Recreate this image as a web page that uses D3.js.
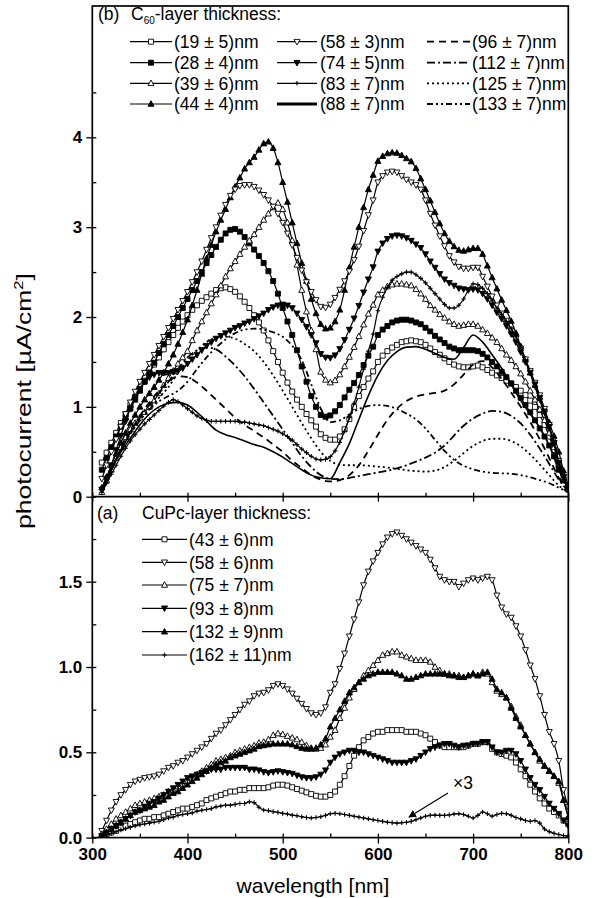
<!DOCTYPE html>
<html><head><meta charset="utf-8">
<script src="https://cdn.jsdelivr.net/npm/d3@7"></script>
<style>
body{margin:0;background:#fff}
svg{display:block}
text{font-family:"Liberation Sans",Arial,sans-serif;fill:#000}
</style></head>
<body><svg id="c" width="597" height="898"></svg>
<script>
// ---------- data ----------
const wavelength5 = d3.range(310, 801, 5);   // nm, 99 samples
const wavelength10 = d3.range(310, 801, 10); // nm, 50 samples

// (b) C60-layer thickness series, photocurrent [uA/cm2]
const c60_19 = [0.38,0.49,0.60,0.71,0.82,0.92,1.02,1.11,1.20,1.29,
1.38,1.47,1.55,1.64,1.72,1.80,1.88,1.95,2.02,2.08,
2.13,2.18,2.22,2.26,2.30,2.32,2.33,2.31,2.28,2.23,
2.17,2.10,2.02,1.94,1.85,1.74,1.62,1.50,1.38,1.27,
1.17,1.08,1.00,0.92,0.85,0.78,0.695,0.655,0.635,0.635,
0.67,0.75,0.865,1.00,1.12,1.22,1.315,1.395,1.50,1.57,
1.62,1.66,1.69,1.72,1.73,1.74,1.73,1.72,1.69,1.65,
1.61,1.58,1.54,1.50,1.47,1.45,1.44,1.44,1.45,1.46,
1.44,1.41,1.38,1.35,1.32,1.29,1.26,1.22,1.18,1.13,
1.07,1.00,0.91,0.80,0.67,0.52,0.35,0.20,0.10];
const c60_28 = [0.30,0.43,0.55,0.67,0.78,0.88,0.98,1.08,1.18,1.28,
1.38,1.49,1.60,1.70,1.80,1.90,2.00,2.10,2.20,2.30,
2.40,2.50,2.60,2.69,2.78,2.86,2.93,2.97,2.98,2.95,
2.89,2.82,2.75,2.68,2.60,2.51,2.40,2.26,2.10,1.95,
1.80,1.63,1.45,1.28,1.12,1.00,0.91,0.89,0.905,0.95,
1.02,1.105,1.19,1.265,1.355,1.465,1.57,1.67,1.80,1.86,
1.90,1.94,1.96,1.97,1.97,1.96,1.94,1.92,1.88,1.84,
1.79,1.75,1.71,1.67,1.65,1.63,1.63,1.63,1.63,1.62,
1.59,1.55,1.50,1.45,1.39,1.33,1.26,1.18,1.10,1.02,
0.94,0.85,0.76,0.67,0.57,0.45,0.30,0.18,0.08];
const c60_39 = [0.05,0.18,0.30,0.43,0.55,0.66,0.75,0.82,0.88,0.94,
1.00,1.07,1.15,1.24,1.32,1.40,1.48,1.55,1.62,1.74,
1.85,1.95,2.05,2.15,2.25,2.35,2.45,2.54,2.62,2.70,
2.78,2.85,2.92,3.00,3.08,3.15,3.22,3.27,3.20,3.05,
2.85,2.58,2.30,2.06,1.85,1.64,1.39,1.30,1.27,1.295,
1.36,1.45,1.555,1.665,1.785,1.915,2.035,2.135,2.25,2.30,
2.34,2.36,2.37,2.37,2.36,2.35,2.31,2.26,2.20,2.13,
2.08,2.03,1.99,1.95,1.92,1.90,1.91,1.92,1.92,1.90,
1.86,1.82,1.77,1.72,1.65,1.58,1.52,1.45,1.37,1.28,
1.18,1.08,0.97,0.85,0.71,0.55,0.36,0.22,0.10];
const c60_44 = [0.10,0.22,0.35,0.48,0.60,0.71,0.82,0.91,1.00,1.08,
1.15,1.22,1.30,1.38,1.48,1.58,1.70,1.83,1.97,2.13,
2.30,2.48,2.65,2.80,2.95,3.08,3.20,3.33,3.45,3.55,
3.65,3.72,3.78,3.86,3.93,3.95,3.88,3.72,3.50,3.28,
3.05,2.82,2.60,2.40,2.20,2.04,1.92,1.87,1.88,1.95,
2.08,2.30,2.55,2.78,3.00,3.22,3.42,3.58,3.735,3.79,
3.82,3.83,3.825,3.80,3.765,3.73,3.655,3.54,3.42,3.295,
3.165,3.04,2.93,2.845,2.785,2.745,2.735,2.75,2.765,2.765,
2.70,2.57,2.44,2.315,2.19,2.075,1.955,1.82,1.675,1.525,
1.38,1.245,1.11,0.97,0.825,0.675,0.50,0.29,0.12];
const c60_58 = [0.20,0.35,0.50,0.64,0.78,0.92,1.05,1.17,1.28,1.38,
1.48,1.58,1.68,1.78,1.88,1.98,2.08,2.18,2.28,2.39,
2.50,2.62,2.75,2.88,3.00,3.13,3.25,3.35,3.42,3.46,
3.47,3.47,3.45,3.41,3.36,3.30,3.23,3.15,3.05,2.93,
2.80,2.66,2.52,2.39,2.28,2.19,2.115,2.105,2.14,2.215,
2.305,2.40,2.51,2.635,2.785,2.96,3.135,3.30,3.50,3.57,
3.61,3.62,3.61,3.57,3.53,3.50,3.47,3.42,3.30,3.15,
3.02,2.90,2.79,2.68,2.61,2.56,2.54,2.54,2.55,2.55,
2.45,2.34,2.23,2.13,2.04,1.96,1.86,1.76,1.65,1.53,
1.40,1.27,1.13,0.98,0.80,0.60,0.40,0.22,0.10];
const c60_74 = [0.08,0.20,0.35,0.52,0.68,0.84,0.98,1.10,1.20,1.28,
1.33,1.36,1.38,1.38,1.38,1.39,1.40,1.43,1.48,1.53,
1.58,1.63,1.68,1.72,1.76,1.79,1.82,1.85,1.88,1.90,
1.93,1.95,1.98,2.01,2.04,2.08,2.11,2.13,2.14,2.13,
2.10,2.04,1.97,1.89,1.80,1.71,1.59,1.55,1.545,1.575,
1.645,1.745,1.86,1.985,2.125,2.275,2.42,2.555,2.73,2.82,
2.87,2.90,2.91,2.90,2.88,2.85,2.81,2.77,2.70,2.62,
2.55,2.48,2.42,2.38,2.35,2.32,2.31,2.30,2.31,2.30,
2.26,2.20,2.13,2.05,1.98,1.90,1.81,1.72,1.61,1.50,
1.38,1.25,1.10,0.95,0.78,0.60,0.38,0.22,0.10];
const c60_83 = [0.05,0.15,0.25,0.35,0.45,0.54,0.62,0.69,0.75,0.81,
0.86,0.91,0.96,1.01,1.05,1.08,1.06,1.02,0.98,0.94,
0.90,0.87,0.85,0.84,0.84,0.84,0.84,0.84,0.84,0.83,
0.83,0.82,0.81,0.80,0.79,0.77,0.75,0.73,0.70,0.67,
0.63,0.58,0.53,0.49,0.45,0.42,0.41,0.415,0.445,0.51,
0.605,0.73,0.88,1.04,1.22,1.42,1.62,1.81,2.07,2.22,
2.33,2.41,2.45,2.48,2.50,2.50,2.47,2.43,2.38,2.32,
2.26,2.20,2.14,2.10,2.10,2.13,2.20,2.30,2.37,2.36,
2.32,2.26,2.18,2.10,2.03,1.95,1.87,1.78,1.66,1.52,
1.37,1.22,1.07,0.92,0.76,0.58,0.38,0.22,0.10];
// line-only series, 10 nm sampling
const c60_88 = [0.05,0.30,0.50,0.65,0.80,0.92,1.00,1.04,1.05,1.02,
0.94,0.84,0.74,0.69,0.66,0.62,0.58,0.55,0.50,0.44,
0.37,0.30,0.24,0.21,0.20,0.38,0.59,0.86,1.125,1.35,
1.515,1.615,1.665,1.67,1.64,1.595,1.55,1.53,1.66,1.80,
1.72,1.58,1.43,1.25,1.07,0.92,0.77,0.57,0.30,0.10];
const c60_96 = [0.05,0.30,0.52,0.72,0.90,1.05,1.18,1.28,1.34,1.33,
1.27,1.18,1.08,0.98,0.88,0.80,0.73,0.66,0.58,0.50,
0.40,0.32,0.24,0.19,0.17,0.185,0.24,0.35,0.51,0.69,
0.855,0.98,1.065,1.115,1.14,1.155,1.18,1.25,1.36,1.47,
1.51,1.44,1.31,1.16,1.00,0.83,0.64,0.43,0.21,0.06];
const c60_112 = [0.05,0.30,0.52,0.72,0.88,1.02,1.15,1.28,1.42,1.55,
1.63,1.66,1.64,1.56,1.46,1.34,1.20,1.05,0.90,0.75,
0.60,0.45,0.33,0.24,0.20,0.195,0.21,0.23,0.25,0.27,
0.29,0.315,0.35,0.39,0.435,0.49,0.57,0.68,0.79,0.87,
0.925,0.955,0.945,0.90,0.815,0.69,0.535,0.365,0.19,0.06];
const c60_125 = [0.05,0.30,0.52,0.70,0.85,0.98,1.10,1.22,1.38,1.52,
1.63,1.72,1.77,1.78,1.76,1.70,1.62,1.50,1.35,1.18,
1.00,0.82,0.65,0.50,0.40,0.355,0.35,0.35,0.345,0.335,
0.325,0.31,0.295,0.285,0.28,0.29,0.33,0.40,0.485,0.565,
0.62,0.645,0.645,0.62,0.56,0.47,0.36,0.24,0.125,0.05];
const c60_133 = [0.05,0.30,0.52,0.70,0.85,0.97,1.06,1.12,1.18,1.28,
1.42,1.55,1.66,1.75,1.82,1.86,1.87,1.86,1.83,1.78,
1.68,1.52,1.25,0.98,0.83,0.85,0.915,0.975,1.01,1.02,
1.01,0.975,0.925,0.86,0.76,0.635,0.51,0.41,0.345,0.305,
0.28,0.265,0.26,0.255,0.24,0.215,0.185,0.15,0.10,0.05];

// (a) CuPc-layer thickness series
const cupc_43 = [0.01,0.02,0.03,0.04,0.055,0.07,0.08,0.09,0.10,0.11,
0.11,0.12,0.12,0.13,0.14,0.15,0.16,0.17,0.17,0.18,
0.19,0.20,0.22,0.23,0.24,0.25,0.26,0.27,0.27,0.28,
0.28,0.29,0.29,0.29,0.29,0.295,0.305,0.31,0.31,0.305,
0.295,0.285,0.275,0.265,0.255,0.245,0.24,0.24,0.25,0.27,
0.31,0.36,0.42,0.48,0.53,0.57,0.59,0.61,0.62,0.62,
0.63,0.63,0.63,0.63,0.62,0.62,0.62,0.61,0.60,0.58,
0.56,0.54,0.53,0.53,0.53,0.53,0.53,0.54,0.55,0.55,
0.56,0.56,0.52,0.50,0.49,0.48,0.47,0.44,0.40,0.36,
0.31,0.27,0.23,0.20,0.17,0.15,0.13,0.10,0.08];
const cupc_58 = [0.04,0.10,0.16,0.21,0.25,0.28,0.31,0.33,0.34,0.35,
0.355,0.36,0.37,0.39,0.41,0.42,0.44,0.45,0.47,0.49,
0.51,0.53,0.55,0.58,0.61,0.63,0.66,0.69,0.72,0.75,
0.78,0.80,0.83,0.845,0.85,0.865,0.89,0.90,0.89,0.87,
0.845,0.815,0.785,0.755,0.73,0.72,0.73,0.765,0.85,0.90,
0.99,1.08,1.18,1.28,1.38,1.48,1.56,1.62,1.67,1.72,
1.76,1.78,1.79,1.77,1.75,1.73,1.71,1.69,1.67,1.63,
1.58,1.53,1.51,1.50,1.50,1.47,1.49,1.51,1.52,1.51,
1.52,1.53,1.51,1.42,1.35,1.31,1.29,1.24,1.18,1.10,
1.01,0.93,0.83,0.72,0.62,0.55,0.45,0.28,0.18];
const cupc_75 = [0.02,0.05,0.08,0.11,0.13,0.15,0.17,0.19,0.20,0.21,
0.22,0.23,0.24,0.25,0.27,0.28,0.30,0.31,0.33,0.35,
0.37,0.39,0.41,0.43,0.45,0.46,0.47,0.48,0.50,0.51,
0.52,0.53,0.54,0.555,0.56,0.575,0.60,0.61,0.605,0.595,
0.585,0.575,0.56,0.54,0.525,0.52,0.525,0.545,0.59,0.63,
0.70,0.76,0.82,0.87,0.91,0.95,0.98,1.01,1.04,1.07,
1.08,1.09,1.09,1.07,1.06,1.05,1.04,1.04,1.04,1.03,
1.00,0.98,0.96,0.96,0.95,0.95,0.94,0.95,0.96,0.95,
0.97,0.96,0.91,0.86,0.84,0.82,0.77,0.71,0.66,0.60,
0.55,0.50,0.45,0.42,0.39,0.36,0.32,0.22,0.12];
const cupc_93 = [0.01,0.03,0.05,0.07,0.09,0.11,0.13,0.15,0.16,0.18,
0.20,0.21,0.23,0.25,0.27,0.29,0.31,0.33,0.35,0.36,
0.37,0.38,0.39,0.40,0.40,0.40,0.41,0.41,0.41,0.41,
0.41,0.40,0.40,0.395,0.385,0.38,0.385,0.39,0.385,0.38,
0.375,0.365,0.355,0.35,0.35,0.355,0.37,0.395,0.44,0.47,
0.49,0.50,0.51,0.51,0.50,0.50,0.49,0.48,0.47,0.46,
0.45,0.44,0.44,0.44,0.44,0.45,0.46,0.48,0.50,0.52,
0.53,0.54,0.55,0.55,0.54,0.53,0.54,0.54,0.55,0.55,
0.56,0.56,0.53,0.50,0.50,0.51,0.51,0.49,0.45,0.40,
0.35,0.31,0.28,0.24,0.20,0.17,0.14,0.10,0.07];
const cupc_132 = [0.01,0.03,0.05,0.07,0.09,0.11,0.13,0.15,0.16,0.17,
0.18,0.19,0.21,0.22,0.24,0.26,0.27,0.29,0.31,0.33,
0.35,0.37,0.39,0.41,0.43,0.44,0.45,0.47,0.48,0.49,
0.50,0.51,0.52,0.535,0.54,0.545,0.55,0.55,0.55,0.55,
0.545,0.535,0.525,0.52,0.52,0.525,0.545,0.58,0.65,0.70,
0.75,0.80,0.85,0.88,0.91,0.93,0.95,0.96,0.97,0.97,
0.97,0.97,0.96,0.95,0.93,0.93,0.94,0.95,0.96,0.96,
0.96,0.96,0.96,0.95,0.95,0.94,0.94,0.95,0.96,0.95,
0.96,0.97,0.93,0.87,0.85,0.82,0.76,0.70,0.65,0.60,
0.55,0.50,0.46,0.42,0.39,0.36,0.33,0.22,0.12];
const cupc_162 = [0.005,0.015,0.025,0.035,0.045,0.052,0.06,0.068,0.075,0.08,
0.085,0.09,0.095,0.105,0.115,0.12,0.13,0.135,0.14,0.145,
0.155,0.16,0.165,0.17,0.18,0.185,0.19,0.19,0.195,0.2,
0.2,0.21,0.205,0.178,0.162,0.158,0.152,0.148,0.142,0.138,
0.132,0.128,0.122,0.118,0.115,0.118,0.122,0.13,0.14,0.142,
0.14,0.135,0.13,0.125,0.12,0.115,0.11,0.105,0.1,0.095,
0.09,0.088,0.085,0.087,0.09,0.095,0.105,0.115,0.125,0.13,
0.132,0.13,0.13,0.133,0.138,0.14,0.135,0.125,0.115,0.13,
0.15,0.14,0.125,0.135,0.142,0.14,0.13,0.118,0.11,0.1,
0.095,0.1,0.085,0.05,0.035,0.025,0.018,0.012,0.01];

const xTicks = [300,400,500,600,700,800];
const xMinor = [350,450,550,650,750];
const yTopTicks = [0,1,2,3,4];
const yTopMinor = [0.5,1.5,2.5,3.5,4.5];
const yBotTicks = [0,0.5,1.0,1.5];
const yBotMinor = [0.25,0.75,1.25,1.75];

const topLabels = ["(19 \u00b1 5)nm","(28 \u00b1 4)nm","(39 \u00b1 6)nm","(44 \u00b1 4)nm",
  "(58 \u00b1 3)nm","(74 \u00b1 5)nm","(83 \u00b1 7)nm","(88 \u00b1 7)nm",
  "(96 \u00b1 7)nm","(112 \u00b1 7)nm","(125 \u00b1 7)nm","(133 \u00b1 7)nm"];
const botLabels = ["(43 \u00b1 6)nm","(58 \u00b1 6)nm","(75 \u00b1 7)nm","(93 \u00b1 8)nm","(132 \u00b1 9)nm","(162 \u00b1 11)nm"];

// ---------- styles ----------
const topSeries = [
  {v:c60_19, w:wavelength5, m:"sq", f:false},
  {v:c60_28, w:wavelength5, m:"sq", f:true},
  {v:c60_39, w:wavelength5, m:"up", f:false},
  {v:c60_44, w:wavelength5, m:"up", f:true},
  {v:c60_58, w:wavelength5, m:"dn", f:false},
  {v:c60_74, w:wavelength5, m:"dn", f:true},
  {v:c60_83, w:wavelength5, m:"plus", f:true},
  {v:c60_88, w:wavelength10, m:null, dash:null, lw:1.6, legLw:2.8},
  {v:c60_96, w:wavelength10, m:null, dash:"7,5", lw:1.8},
  {v:c60_112, w:wavelength10, m:null, dash:"8,3,2,3", lw:1.8},
  {v:c60_125, w:wavelength10, m:null, dash:"2,3", lw:1.8},
  {v:c60_133, w:wavelength10, m:null, dash:"6,3,2,3,2,3", lw:1.8}
];
const botSeries = [
  {v:cupc_43, w:wavelength5, m:"sq", f:false},
  {v:cupc_58, w:wavelength5, m:"dn", f:false},
  {v:cupc_75, w:wavelength5, m:"up", f:false},
  {v:cupc_93, w:wavelength5, m:"dn", f:true},
  {v:cupc_132, w:wavelength5, m:"up", f:true},
  {v:cupc_162, w:wavelength5, m:"plus", f:true}
];

// ---------- scales ----------
const svg = d3.select("#c");
const x = d3.scaleLinear().domain([300,800]).range([92.3,568.3]);
const yT = d3.scaleLinear().domain([0,4]).range([496.7,137.3]);
const yB = d3.scaleLinear().domain([0,1.5]).range([837.6,581.7]);
const topY = 6;
const FONT = "'Liberation Sans',Arial,sans-serif";

function markerPath(type){
  if(type==="sq") return "M-2.5,-2.5H2.5V2.5H-2.5Z";
  if(type==="up") return "M0,-3.3L3,2.3H-3Z";
  if(type==="dn") return "M0,3.3L3,-2.3H-3Z";
  if(type==="plus") return "M-2.3,0H2.3M0,-2.3V2.3";
  return "";
}
function drawSeries(g, s, y){
  const pts = s.w.map((w,i)=>[w, s.v[i]]);
  const line = d3.line().x(d=>x(d[0])).y(d=>y(d[1])).curve(d3.curveMonotoneX);
  g.append("path").attr("d", line(pts)).attr("fill","none").attr("stroke","#000")
    .attr("stroke-width", s.m ? 1.2 : s.lw).attr("stroke-dasharray", s.dash||null);
  if(s.m){
    g.selectAll(null).data(pts).enter().append("path")
      .attr("transform", d=>`translate(${x(d[0])},${y(d[1])})`)
      .attr("d", markerPath(s.m))
      .attr("fill", s.m==="plus" ? "none" : (s.f ? "#000" : "#fff"))
      .attr("stroke","#000").attr("stroke-width", s.m==="plus"?1.1:0.9);
  }
}

svg.append("clipPath").attr("id","clipT").append("rect")
  .attr("x",x(300)).attr("y",topY).attr("width",x(800)-x(300)).attr("height",yT(0)-topY);
svg.append("clipPath").attr("id","clipB").append("rect")
  .attr("x",x(300)).attr("y",yT(0)).attr("width",x(800)-x(300)).attr("height",yB(0)-yT(0));

const gT = svg.append("g").attr("clip-path","url(#clipT)");
topSeries.forEach(s=>drawSeries(gT, s, yT));
const gB = svg.append("g").attr("clip-path","url(#clipB)");
botSeries.forEach(s=>drawSeries(gB, s, yB));

// ---------- axes ----------
function clean(g){ g.select(".domain").remove(); g.selectAll(".tick line").attr("stroke","#000").attr("stroke-width",1.3); }
const tickFont = g => g.selectAll("text").attr("font-size",17).attr("font-weight","bold")
  .attr("font-family",FONT).attr("fill","#000");

svg.append("g").attr("transform",`translate(${x(300)},0)`)
  .call(d3.axisLeft(yT).tickValues(yTopTicks).tickSize(6).tickPadding(4).tickFormat(d3.format("d")))
  .call(clean).call(tickFont);
svg.append("g").attr("transform",`translate(${x(300)},0)`)
  .call(d3.axisRight(yT).tickValues(yTopTicks.concat(yTopMinor)).tickSize(4).tickFormat(""))
  .call(clean);
svg.append("g").attr("transform",`translate(${x(300)},0)`)
  .call(d3.axisLeft(yB).tickValues(yBotTicks).tickSize(6).tickPadding(4).tickFormat(d3.format(".1f")))
  .call(clean).call(tickFont);
svg.append("g").attr("transform",`translate(${x(300)},0)`)
  .call(d3.axisRight(yB).tickValues(yBotTicks.concat(yBotMinor)).tickSize(4).tickFormat(""))
  .call(clean);
svg.append("g").attr("transform",`translate(0,${yB(0)})`)
  .call(d3.axisBottom(x).tickValues(xTicks).tickSize(6).tickPadding(4).tickFormat(d3.format("d")))
  .call(clean).call(tickFont);
svg.append("g").attr("transform",`translate(0,${yB(0)})`)
  .call(d3.axisTop(x).tickValues(xTicks.concat(xMinor)).tickSize(4).tickFormat(""))
  .call(clean);
svg.append("g").attr("transform",`translate(0,${yT(0)})`)
  .call(d3.axisTop(x).tickValues(xTicks.concat(xMinor)).tickSize(4).tickFormat(""))
  .call(clean);
svg.append("g").attr("transform",`translate(0,${yT(0)})`)
  .call(d3.axisBottom(x).tickValues(xTicks).tickSize(5).tickFormat(""))
  .call(clean);

// frame
svg.append("rect").attr("x",x(300)).attr("y",topY).attr("width",x(800)-x(300)).attr("height",yB(0)-topY)
  .attr("fill","none").attr("stroke","#000").attr("stroke-width",1.7);
svg.append("line").attr("x1",x(300)).attr("x2",x(800)).attr("y1",yT(0)).attr("y2",yT(0))
  .attr("stroke","#000").attr("stroke-width",1.7);

// axis titles
const yTitle = svg.append("text").attr("text-anchor","middle").attr("font-size",21)
  .call(t=>{ t.append("tspan").text("photocurrent [\u00b5A/cm");
             t.append("tspan").attr("dy",-8).attr("font-size",13).text("2");
             t.append("tspan").attr("dy",8).text("]"); });
const natW = yTitle.node().getComputedTextLength();
yTitle.attr("transform",`translate(31,401) rotate(-90) scale(${256/natW},1)`);
svg.append("text").attr("x",313).attr("y",893).attr("text-anchor","middle").attr("font-size",21)
  .text("wavelength [nm]");

// ---------- legends ----------
function legendSample(g, s, x1, x2, y){
  g.append("line").attr("x1",x1).attr("x2",x2).attr("y1",y).attr("y2",y).attr("stroke","#000")
    .attr("stroke-width", s.m ? 1.2 : (s.legLw||s.lw)).attr("stroke-dasharray", s.dash||null);
  if(s.m){
    g.append("path").attr("transform",`translate(${(x1+x2)/2},${y})`).attr("d",markerPath(s.m))
      .attr("fill", s.m==="plus"?"none":(s.f?"#000":"#fff")).attr("stroke","#000")
      .attr("stroke-width", s.m==="plus"?1.1:0.9);
  }
}
const LF = 17.5;
const lg = svg.append("g");
lg.append("text").attr("x",98).attr("y",20).attr("font-size",LF).text("(b)");
lg.append("text").attr("x",131).attr("y",20).attr("font-size",LF)
  .call(t=>{ t.append("tspan").text("C");
             t.append("tspan").attr("dy",4).attr("font-size",10).text("60");
             t.append("tspan").attr("dy",-4).text("-layer thickness:"); });
const colLine = [[130,172],[277,317],[427,470]];
const colText = [174,320,472];
const rowY = [41.7,62.7,83.3,104];
topSeries.forEach((s,i)=>{
  const c = Math.floor(i/4), r = i%4;
  legendSample(lg, s, colLine[c][0], colLine[c][1], rowY[r]);
  lg.append("text").attr("x",colText[c]).attr("y",rowY[r]).attr("dy","0.36em").attr("font-size",LF).text(topLabels[i]);
});
lg.append("text").attr("x",97).attr("y",519).attr("font-size",LF).text("(a)");
lg.append("text").attr("x",142).attr("y",519).attr("font-size",LF).text("CuPc-layer thickness:");
const botRowY = [539.3,562.3,585,608.3,631.7,655];
botSeries.forEach((s,i)=>{
  legendSample(lg, s, 142, 187, botRowY[i]);
  lg.append("text").attr("x",189).attr("y",botRowY[i]).attr("dy","0.36em").attr("font-size",LF).text(botLabels[i]);
});

// x3 annotation
svg.append("defs").append("marker").attr("id","arr").attr("viewBox","0 0 10 10").attr("refX",9).attr("refY",5)
  .attr("markerWidth",7).attr("markerHeight",7).attr("orient","auto")
  .append("path").attr("d","M0,0L10,5L0,10Z").attr("fill","#000");
svg.append("line").attr("x1",448).attr("y1",793).attr("x2",409).attr("y2",817)
  .attr("stroke","#000").attr("stroke-width",1.1).attr("marker-end","url(#arr)");
svg.append("text").attr("x",453).attr("y",789).attr("font-size",LF).text("\u00d73");
</script></body></html>
